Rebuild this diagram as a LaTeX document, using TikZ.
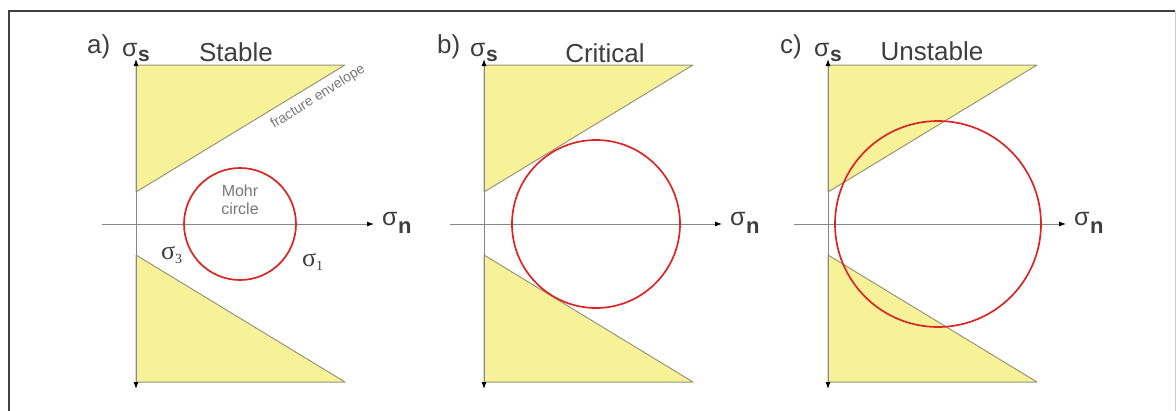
\documentclass[tikz,border=0pt]{standalone}
\usepackage{fontspec}
\setmainfont{Liberation Sans}
\newfontfamily\seriffont{Liberation Serif}
\usetikzlibrary{arrows.meta}
\definecolor{envfill}{RGB}{247,242,152}
\definecolor{envline}{RGB}{150,150,122}
\definecolor{axisgray}{RGB}{135,135,135}
\definecolor{mohrred}{RGB}{218,38,38}
\definecolor{txtgray}{RGB}{62,62,62}
\definecolor{lightgray}{RGB}{120,120,120}
\tikzset{
  envtri/.style={fill=envfill, draw=envline, line width=1pt, line join=round},
  vaxis/.style={draw=axisgray, line width=0.9pt, {Latex[length=7pt,width=5pt,black]}-{Latex[length=7pt,width=5pt,black]}},
  haxis/.style={draw=axisgray, line width=0.9pt, -{Latex[length=7pt,width=5pt,black]}},
  mohr/.style={draw=mohrred, line width=1.7pt, circle, inner sep=0pt},
  title/.style={font=\fontsize{26}{26}\selectfont, text=txtgray, inner sep=0pt},
  axlabel/.style={font=\fontsize{25}{25}\selectfont, text=txtgray, inner sep=0pt},
  smalltxt/.style={font=\fontsize{16}{18}\selectfont, text=lightgray, inner sep=0pt, align=center},
  envtxt/.style={font=\fontsize{14}{14}\selectfont, text=lightgray, inner sep=0pt},
  sigtxt/.style={font=\seriffont\fontsize{26}{26}\selectfont, text=txtgray, inner sep=0pt},
  framestyle/.style={draw=black!75, line width=1.6pt},
  faintframe/.style={draw=black!20, line width=0.8pt}
}
\newcommand\mpanel[4]{%
  \draw[envtri] (#2,65) -- ({#2+209},65) -- (#2,192) -- cycle;
  \draw[envtri] (#2,255) -- (#2,382) -- ({#2+209},382) -- cycle;
  \coordinate (#1vt) at (#2,59);
  \coordinate (#1vb) at (#2,389);
  \draw[vaxis] (#1vb) -- (#1vt);
  \coordinate (#1hl) at ({#2-34},224);
  \coordinate (#1hr) at ({#2+238},224);
  \draw[haxis] (#1hl) -- (#1hr);
  \node[mohr, minimum size={2*#4}] (#1circ) at (#3,224) {};
  \node[axlabel, anchor=base west] (#1sign) at ({#2+246},225)
     {σ\kern0.5pt\raisebox{-8pt}{\fontsize{22}{22}\selectfont\bfseries n}};
  \node[axlabel, anchor=base west] (#1sigs) at ({#2-14},56)
     {σ\kern0.5pt\raisebox{-5pt}{\fontsize{21}{21}\selectfont\bfseries s}};
}
\begin{document}
\begin{tikzpicture}[x=1pt,y=-1pt]
\useasboundingbox (0,0) rectangle (1176,410);
\coordinate (fbl) at (9,412);
\coordinate (ftl) at (9,11);
\coordinate (ftr) at (1175,11);
\coordinate (fbr) at (1175,412);
\draw[framestyle] (fbl) -- (ftl) -- (ftr);
\draw[faintframe] (ftr) -- (fbr);

% panel a
\mpanel{a}{136}{240}{56}
\node[title, anchor=base west] (alab) at (87,53) {a)};
\node[title, anchor=base] (atitle) at (236,61) {Stable};
\node[smalltxt] (amohr) at (240,200) {Mohr\\circle};
\node[sigtxt, anchor=base west] (asig3) at (161,259) {σ\raisebox{-4pt}{\fontsize{14}{14}\selectfont 3}};
\node[sigtxt, anchor=base west] (asig1) at (302,266) {σ\raisebox{-4pt}{\fontsize{14}{14}\selectfont 1}};
\node[envtxt, rotate=32] (aenv) at (318,97) {fracture envelope};

% panel b
\mpanel{b}{484}{596}{84}
\node[title, anchor=base west] (blab) at (437,53) {b)};
\node[title, anchor=base] (btitle) at (605,62) {Critical};

% panel c
\mpanel{c}{828}{938}{103}
\node[title, anchor=base west] (clab) at (780,53) {c)};
\node[title, anchor=base] (ctitle) at (932,60) {Unstable};
\end{tikzpicture}
\end{document}
